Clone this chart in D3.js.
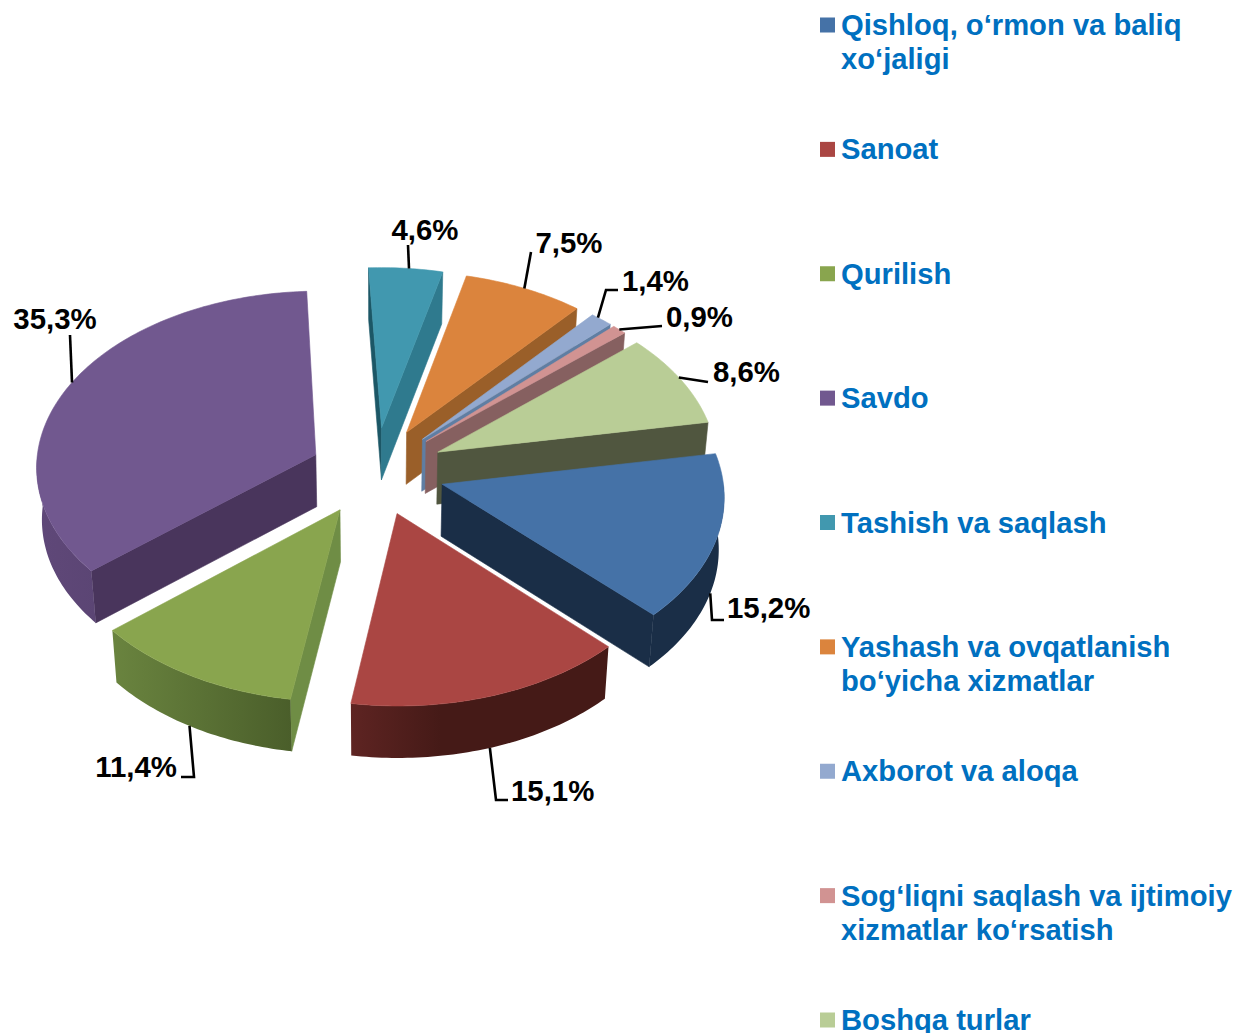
<!DOCTYPE html>
<html><head><meta charset="utf-8">
<script src="https://cdn.jsdelivr.net/npm/d3@7"></script>
<style>html,body{margin:0;padding:0;background:#fff}svg{display:block}text{font-family:"Liberation Sans",Arial,sans-serif;font-weight:700}</style>
</head><body><svg id="c" width="1248" height="1033"></svg>
<script>
// Data
const categories = [["Qishloq, o‘rmon va baliq","xo‘jaligi"],["Sanoat"],["Qurilish"],["Savdo"],["Tashish va saqlash"],["Yashash va ovqatlanish","bo‘yicha xizmatlar"],["Axborot va aloqa"],["Sog‘liqni saqlash va ijtimoiy","xizmatlar ko‘rsatish"],["Boshqa turlar"]];
const values = [15.2,15.1,11.4,35.3,4.6,7.5,1.4,0.9,8.6];
const valueLabels = ["15,2%","15,1%","11,4%","35,3%","4,6%","7,5%","1,4%","0,9%","8,6%"];
// Styles
const topColors  = ["#4572a7","#aa4643","#89a54e","#71588f","#4198af","#db843d","#93a9cf","#d19392","#b9cd96"];
const sideColors = ["#1a2e47","#4a1a17","#6f8d45","#49355c","#2f7a8e","#9a5f29","#5f7ea3","#866060","#50563f"];
const startSide  = ["#1a2e47","#4a1a17","#6f8d45","#49355c","#1c5766","#9a5f29","#5f7ea3","#866060","#50563f"];
const outerLeft  = ["#1a2e47","#5e2422","#6a843f","#5f4879","#2f7a8e","#9a5f29","#5f7ea3","#866060","#50563f"];
const outerRight = ["#1a2e47","#451a17","#4a5e2a","#5b4574","#2f7a8e","#9a5f29","#5f7ea3","#866060","#50563f"];
const explodes   = [70,70,70,65,70,70,70,70,70];
// Label layout: text position, anchor, leader path after the rim point, leader start offset (deg), z on rim
const labelPos = [[727,618,"start"],[511,801,"start"],[177,777,"end"],[55,329,"middle"],[425,240,"middle"],[569,253,"middle"],[622,291,"start"],[666,327,"start"],[713,382,"start"]];
const leaderPts = [[[712,620],[724,620]],[[496,800],[508,800]],[[194,777],[181,777]],[[70,335]],[[408,245]],[[531,252]],[[606,290],[618,290]],[[662,326]],[[708,382]]];
const leaderDelta = [1,0,0.9,1.5,0.7,0,-1,0,-0.7];
const leaderFront = [1,1,1,0,0,0,0,0,0];

// Geometry
const CX=375, CY=471, R=280, TILT=0.63, DEPTH=52, PK=0.00022, ZK=0.0003;
const rad=Math.PI/180;
const svg=d3.select("#c");
const pie=d3.pie().sort(null).startAngle(80*rad).endAngle(440*rad);
const arcs=pie(values);
function project(a,r,z,mid,ex){
  const u=Math.sin(a)*r+Math.sin(mid)*ex, v=-Math.cos(a)*r-Math.cos(mid)*ex;
  const s=1+PK*v, zs=1-ZK*z;
  return [CX+u*s*zs, CY+v*TILT*s+z];
}
const line=d3.line();
const steps=(a,b)=>{const n=Math.max(2,Math.ceil(Math.abs(b-a)/(1*rad)));return d3.range(n+1).map(i=>a+(b-a)*i/n);};
const defs=svg.append("defs");
const order=arcs.map((d,i)=>i).sort((p,q)=>{
  const m=i=>(arcs[i].startAngle+arcs[i].endAngle)/2;
  return project(0,0,0,m(p),explodes[p])[1]-project(0,0,0,m(q),explodes[q])[1];
});
const g=svg.append("g");
order.forEach(i=>{
  const d=arcs[i], s=d.startAngle, e=d.endAngle, mid=(s+e)/2, ex=explodes[i];
  const sl=g.append("g").attr("class","slice");
  const wall=(a,col)=>{
    const p=[project(a,0,0,mid,ex),project(a,R,0,mid,ex),project(a,R,DEPTH,mid,ex),project(a,0,DEPTH,mid,ex)];
    sl.append("path").attr("d",line(p)+"Z").attr("fill",col).attr("stroke",col).attr("stroke-width",.6);
  };
  if(Math.sin(s)<0) wall(s,startSide[i]);
  if(Math.sin(e)>0) wall(e,sideColors[i]);
  // outer wall: part of rim facing the viewer (90..270 deg)
  let a0=Math.max(s,90*rad), a1=Math.min(e,270*rad);
  if(a1>a0){
    const ang=steps(a0,a1);
    const pts=ang.map(a=>project(a,R,0,mid,ex)).concat(ang.slice().reverse().map(a=>project(a,R,DEPTH,mid,ex)));
    const id="og"+i, xs=pts.map(p=>p[0]);
    const lg=defs.append("linearGradient").attr("id",id).attr("gradientUnits","userSpaceOnUse")
      .attr("x1",d3.min(xs)).attr("x2",d3.max(xs)).attr("y1",0).attr("y2",0);
    lg.append("stop").attr("offset",0).attr("stop-color",outerLeft[i]);
    lg.append("stop").attr("offset",.35).attr("stop-color",i==1?outerRight[i]:d3.interpolateRgb(outerLeft[i],outerRight[i])(.35));
    lg.append("stop").attr("offset",1).attr("stop-color",outerRight[i]);
    sl.append("path").attr("d",line(pts)+"Z").attr("fill",`url(#${id})`);
  }
  // top
  const top=[project(s,0,0,mid,ex)].concat(steps(s,e).map(a=>project(a,R,0,mid,ex)));
  sl.append("path").attr("d",line(top)+"Z").attr("fill",topColors[i]).attr("stroke",topColors[i]).attr("stroke-width",.6);
});
// Leaders and labels
const lab=svg.append("g");
arcs.forEach((d,i)=>{
  const mid=(d.startAngle+d.endAngle)/2;
  const st=project(mid+leaderDelta[i]*rad,R,leaderFront[i]?DEPTH:0,mid,explodes[i]);
  lab.append("path").attr("d",line([st,...leaderPts[i]])).attr("fill","none").attr("stroke","#000").attr("stroke-width",2.6);
  const [x,y,an]=labelPos[i];
  lab.append("text").attr("x",x).attr("y",y).attr("text-anchor",an).attr("font-size",29.4).attr("fill","#000").text(valueLabels[i]);
});
// Legend
const rowY=d3.scaleLinear().domain([0,8]).range([25,1020]);
const leg=svg.append("g");
categories.forEach((lines,i)=>{
  const y=rowY(i);
  leg.append("rect").attr("x",820).attr("y",y-7.5).attr("width",15).attr("height",15).attr("fill",topColors[i]);
  lines.forEach((t,j)=>leg.append("text").attr("x",841).attr("y",y+10+j*34).attr("font-size",29.2).attr("fill","#0070c0").text(t));
});
</script></body></html>
